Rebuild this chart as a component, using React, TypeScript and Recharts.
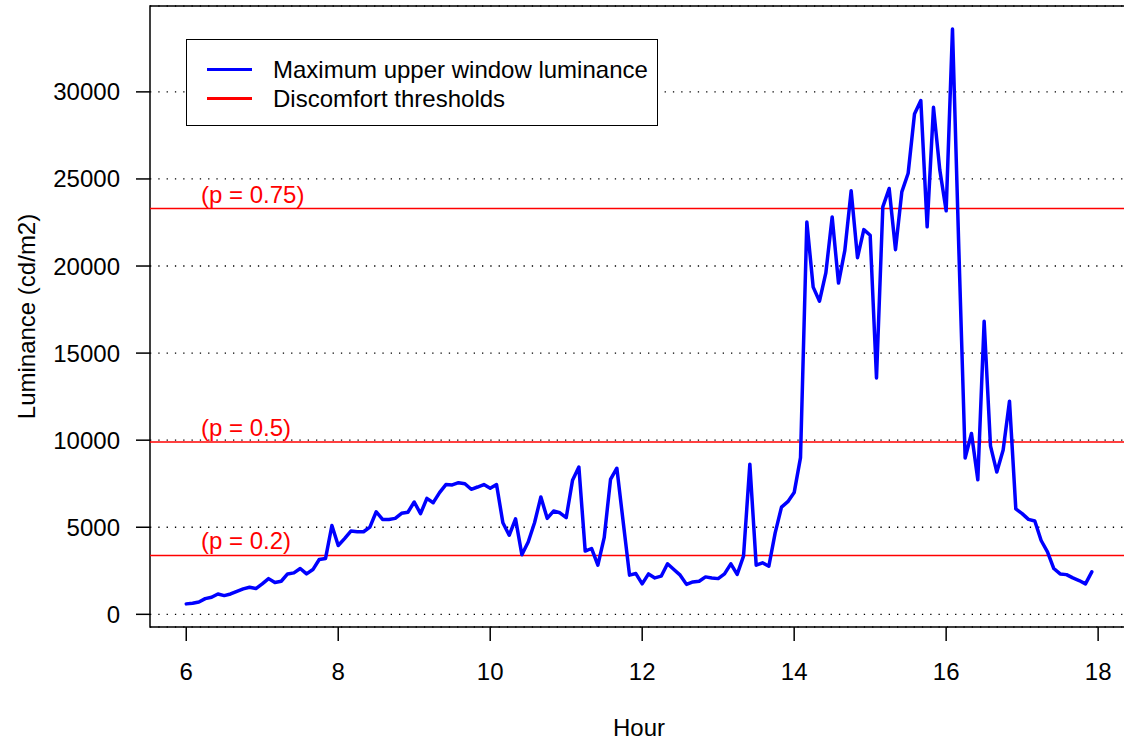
import React from 'react';
import {
  LineChart,
  Line,
  XAxis,
  YAxis,
  CartesianGrid,
  ReferenceLine,
  ReferenceArea,
  Legend,
  Label,
} from 'recharts';

// Maximum upper window luminance (cd/m2), one reading every 5 minutes from 6:00 to 17:55
const luminance = [
  600, 640, 710, 900, 980, 1170, 1075, 1170, 1320, 1460, 1555, 1480,
  1750, 2050, 1825, 1900, 2320, 2380, 2630, 2320, 2570, 3150, 3210, 5100,
  3950, 4350, 4780, 4740, 4740, 5010, 5890, 5450, 5450, 5510, 5800, 5860,
  6450, 5780, 6660, 6410, 6990, 7450, 7430, 7560, 7500, 7180, 7310, 7450,
  7240, 7450, 5260, 4540, 5480, 3420, 4150, 5260, 6740, 5510, 5930, 5830,
  5550, 7700, 8460, 3630, 3780, 2820, 4400, 7750, 8390, 5300, 2250, 2340,
  1750, 2320, 2090, 2190, 2900, 2570, 2250, 1720, 1860, 1900, 2150, 2090,
  2050, 2320, 2900, 2290, 3340, 8620, 2820, 2960, 2760, 4680, 6160, 6470,
  6990, 9000, 22530, 18790, 17980, 19600, 22820, 19020, 20900, 24320, 20480, 22090,
  21770, 13570, 23400, 24450, 20940, 24260, 25330, 28730, 29500, 22250, 29110, 25510,
  23170, 33610, 21000, 8980, 10380, 7730, 16830, 9670, 8170, 9430, 12240, 6050,
  5780, 5450, 5360, 4240, 3590, 2630, 2320, 2280, 2090, 1940, 1750, 2440,
];
const hours = luminance.map((_, i) => 6 + (i * 5) / 60);

const xTicks = [6, 8, 10, 12, 14, 16, 18];
const yTicks = [0, 5000, 10000, 15000, 20000, 25000, 30000];

const thresholdValues = [3380, 9900, 23300];
const thresholdLabels = ['(p = 0.2)', '(p = 0.5)', '(p = 0.75)'];

const legendLabels = ['Maximum upper window luminance', 'Discomfort thresholds'];
const legendColors = ['#0000FF', '#FF0000'];

const xDomain: [number, number] = [5.523, 18.393];
const yDomain: [number, number] = [-728, 34931];

const data = hours.map((h, i) => ({ hour: h, value: luminance[i] }));

const FONT = '"Liberation Sans", Arial, Helvetica, sans-serif';

const LegendBox = () => (
  <div
    style={{
      boxSizing: 'border-box',
      width: 472,
      height: 87,
      border: '1.5px solid #000',
      background: '#fff',
      paddingTop: 15,
      fontFamily: FONT,
      fontSize: 24,
      color: '#000',
    }}
  >
    {legendLabels.map((lab, i) => (
      <div key={lab} style={{ display: 'flex', alignItems: 'center', height: 29, lineHeight: '29px' }}>
        <div style={{ width: 45, height: 3, background: legendColors[i], marginLeft: 20 }} />
        <div style={{ marginLeft: 21, whiteSpace: 'nowrap' }}>{lab}</div>
      </div>
    ))}
  </div>
);

export default function App() {
  return (
    <div
      style={{
        position: 'fixed',
        left: 0,
        top: 0,
        width: 1124,
        height: 740,
        overflow: 'hidden',
        background: '#fff',
      }}
    >
      <LineChart
        width={1140}
        height={740}
        data={data}
        margin={{ top: 6, right: 12, bottom: 0, left: 0 }}
      >
        <CartesianGrid
          horizontal={true}
          vertical={false}
          stroke="#000"
          strokeWidth={1.3}
          strokeDasharray="1.3 7"
        />
        <ReferenceArea
          x1={xDomain[0]}
          x2={xDomain[1]}
          y1={yDomain[0]}
          y2={yDomain[1]}
          fill="none"
          fillOpacity={0}
          stroke="#000"
          strokeWidth={1.5}
          ifOverflow="visible"
        />
        <XAxis
          type="number"
          dataKey="hour"
          domain={xDomain}
          allowDataOverflow
          ticks={xTicks}
          interval={0}
          height={113}
          axisLine={false}
          tickSize={14}
          tickMargin={22}
          tickLine={{ stroke: '#000', strokeWidth: 1.5 }}
          tick={{ fill: '#000', fontSize: 24, fontFamily: FONT }}
        >
          <Label
            value="Hour"
            position="insideBottom"
            offset={4}
            style={{ fill: '#000', fontSize: 24, fontFamily: FONT }}
          />
        </XAxis>
        <YAxis
          type="number"
          domain={yDomain}
          allowDataOverflow
          ticks={yTicks}
          interval={0}
          width={150}
          axisLine={false}
          tickSize={14}
          tickMargin={16}
          tickLine={{ stroke: '#000', strokeWidth: 1.5 }}
          tick={{ fill: '#000', fontSize: 24, fontFamily: FONT }}
        >
          <Label
            content={(props: any) => {
              const vb = props.viewBox || {};
              const cx = (vb.x ?? 0) + 27;
              const cy = (vb.y ?? 0) + (vb.height ?? 0) / 2;
              return (
                <text
                  x={cx}
                  y={cy}
                  transform={`rotate(-90, ${cx}, ${cy})`}
                  textAnchor="middle"
                  dy="0.35em"
                  fill="#000"
                  fontSize={24}
                  fontFamily={FONT}
                >
                  Luminance (cd/m2)
                </text>
              );
            }}
          />
        </YAxis>
        {thresholdValues.map((v, i) => (
          <ReferenceLine
            key={v}
            y={v}
            stroke="#FF0000"
            strokeWidth={1.5}
            ifOverflow="visible"
            label={(props: any) => {
              const vb = props.viewBox || {};
              return (
                <text
                  x={(vb.x ?? 0) + 51}
                  y={(vb.y ?? 0) - 6}
                  fill="#FF0000"
                  fontSize={24}
                  fontFamily={FONT}
                  textAnchor="start"
                >
                  {thresholdLabels[i]}
                </text>
              );
            }}
          />
        ))}
        <Line
          type="linear"
          dataKey="value"
          stroke="#0000FF"
          strokeWidth={3.5}
          strokeLinejoin="round"
          strokeLinecap="round"
          dot={false}
          activeDot={false}
          isAnimationActive={false}
        />
        <Legend
          layout="vertical"
          align="center"
          verticalAlign="middle"
          wrapperStyle={{ left: 186, top: 39, width: 472, height: 87 }}
          content={() => <LegendBox />}
        />
      </LineChart>
    </div>
  );
}
